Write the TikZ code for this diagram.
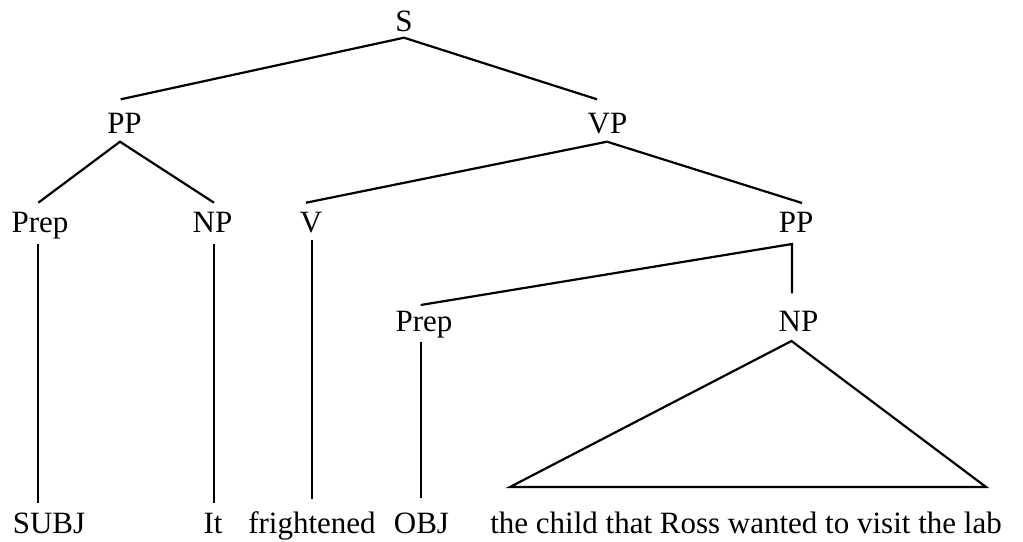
\documentclass[tikz,border=0pt]{standalone}
\usepackage{fontspec}
\setmainfont{Liberation Serif}
\usetikzlibrary{calc}
\begin{document}
\begin{tikzpicture}[x=1pt,y=-1pt,
  lbl/.style={inner sep=0pt,anchor=base,font=\fontsize{31}{37}\selectfont},
  edge/.style={line width=2.2pt,line cap=butt,line join=miter}]
\useasboundingbox (0,0) rectangle (1023,541);

% category labels
\node[lbl] (s)     at (404,31.5)  {S};
\node[lbl] (pp1)   at (124.5,133) {PP};
\node[lbl] (vp)    at (607.5,133) {VP};
\node[lbl] (prep1) at (40,232)    {Prep};
\node[lbl] (np1)   at (212.5,232) {NP};
\node[lbl] (v)     at (311,232)   {V};
\node[lbl] (pp2)   at (796,232)   {PP};
\node[lbl] (prep2) at (424,331.5) {Prep};
\node[lbl] (np2)   at (798.5,331.5) {NP};

% terminal string
\node[lbl] (subj)  at (49,533)    {SUBJ};
\node[lbl] (it)    at (213,533)   {It};
\node[lbl] (fr)    at (312,533)   {frightened};
\node[lbl] (obj)   at (421.5,533) {OBJ};
\node[lbl] (phr)   at (746,533)   {the child that Ross wanted to visit the lab};

% attachment points below/above each label
\coordinate (s-b)     at ($(s.base)+(0,6.2)$);
\coordinate (pp1-t)   at ($(pp1.base)+(-3.8,-33.7)$);
\coordinate (pp1-b)   at ($(pp1.base)+(-4.5,8.7)$);
\coordinate (vp-t)    at ($(vp.base)+(-10.5,-33.7)$);
\coordinate (vp-b)    at ($(vp.base)+(-0.5,8.7)$);
\coordinate (prep1-t) at ($(prep1.base)+(-1.7,-29.3)$);
\coordinate (prep1-b) at ($(prep1.base)+(-2.3,12)$);
\coordinate (np1-t)   at ($(np1.base)+(1.5,-29.3)$);
\coordinate (np1-b)   at ($(np1.base)+(1.5,12)$);
\coordinate (v-t)     at ($(v.base)+(-5,-29.3)$);
\coordinate (v-b)     at ($(v.base)+(0.7,8)$);
\coordinate (pp2-t)   at ($(pp2.base)+(6,-29)$);
\coordinate (pp2-b)   at ($(pp2.base)+(-4,12)$);
\coordinate (prep2-t) at ($(prep2.base)+(-3.3,-26.5)$);
\coordinate (prep2-b) at ($(prep2.base)+(-3.3,10.2)$);
\coordinate (np2-t)   at ($(np2.base)+(-6.5,-38.2)$);
\coordinate (np2-b)   at ($(np2.base)+(-7,9.5)$);
\coordinate (tri-l)   at ($(phr.base)+(-236,-46)$);
\coordinate (tri-r)   at ($(phr.base)+(240,-46)$);

% branches
\draw[edge] (pp1-t) -- (s-b) -- (vp-t);
\draw[edge] (prep1-t) -- (pp1-b) -- (np1-t);
\draw[edge] (v-t) -- (vp-b) -- (pp2-t);
\draw[edge] (prep2-t) -- (pp2-b) -- (np2-t);

% unary branches down to the terminals
\draw[edge] (prep1-b) -- (prep1-b |- {$(subj.base)+(0,-30)$});
\draw[edge] (np1-b)   -- (np1-b |- {$(it.base)+(0,-30)$});
\draw[edge] (v-b)     -- (v-b |- {$(fr.base)+(0,-34)$});
\draw[edge] (prep2-b) -- (prep2-b |- {$(obj.base)+(0,-35)$});

% collapsed NP
\draw[edge] (tri-l) -- (np2-b) -- (tri-r) -- cycle;
\end{tikzpicture}
\end{document}
